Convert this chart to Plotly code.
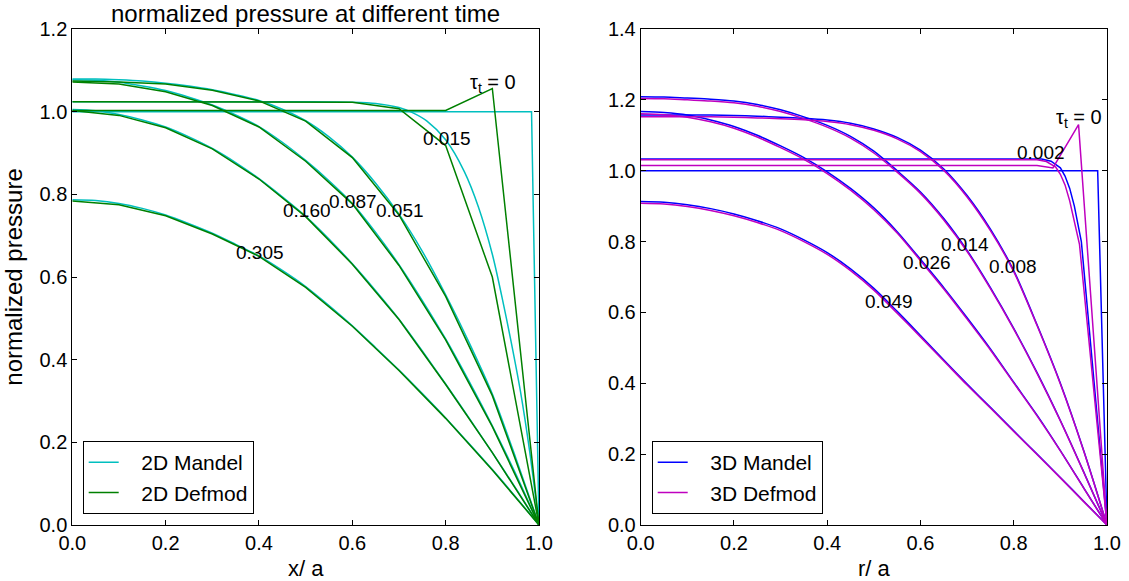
import plotly.graph_objects as go

# ---------------- 2D (left panel) ----------------
x_def2 = [0.0, 0.1, 0.2, 0.3, 0.4, 0.5, 0.6, 0.7, 0.8, 0.9, 1.0]
def2_t0 = [1.003, 1.003, 1.003, 1.003, 1.003, 1.003, 1.003, 1.003, 1.003, 1.056, 0.0]
def2_015 = [1.024, 1.024, 1.024, 1.024, 1.024, 1.024, 1.023, 1.007, 0.918, 0.600, 0.0]
def2_051 = [1.074, 1.072, 1.067, 1.052, 1.026, 0.977, 0.889, 0.750, 0.553, 0.313, 0.0]
def2_087 = [1.072, 1.067, 1.048, 1.015, 0.963, 0.880, 0.777, 0.628, 0.448, 0.238, 0.0]
def2_160 = [1.003, 0.991, 0.961, 0.910, 0.837, 0.746, 0.631, 0.497, 0.340, 0.175, 0.0]
def2_305 = [0.784, 0.775, 0.748, 0.704, 0.650, 0.575, 0.481, 0.374, 0.258, 0.133, 0.0]

x_man = [0.0, 0.05, 0.1, 0.15, 0.2, 0.25, 0.3, 0.35, 0.4, 0.45, 0.5,
         0.55, 0.6, 0.65, 0.7, 0.75, 0.8, 0.85, 0.9, 0.95, 1.0]
man2_t0_x = [0.0, 0.984, 1.0]
man2_t0 = [1.0, 1.0, 0.0]
man2_015_x = [0.0, 0.1, 0.2, 0.3, 0.4, 0.5, 0.6, 0.65, 0.7, 0.73, 0.76, 0.8,
              0.84, 0.87, 0.9, 0.92, 0.94, 0.96, 0.98, 1.0]
man2_015 = [1.024, 1.024, 1.024, 1.024, 1.024, 1.024, 1.023, 1.020, 1.010, 0.997,
            0.977, 0.932, 0.855, 0.770, 0.655, 0.555, 0.445, 0.325, 0.178, 0.0]
man2_051 = [1.079, 1.079, 1.077, 1.074, 1.069, 1.062, 1.053, 1.041, 1.027, 1.006, 0.978,
            0.939, 0.890, 0.827, 0.752, 0.662, 0.557, 0.442, 0.317, 0.163, 0.0]
man2_087 = [1.077, 1.076, 1.071, 1.062, 1.051, 1.035, 1.016, 0.992, 0.964, 0.926, 0.882,
            0.833, 0.778, 0.708, 0.630, 0.543, 0.450, 0.348, 0.240, 0.124, 0.0]
man2_160 = [1.005, 1.002, 0.993, 0.980, 0.963, 0.939, 0.911, 0.877, 0.838, 0.794, 0.747,
            0.692, 0.632, 0.567, 0.498, 0.421, 0.341, 0.259, 0.175, 0.089, 0.0]
man2_305 = [0.787, 0.785, 0.778, 0.766, 0.750, 0.729, 0.706, 0.679, 0.651, 0.616, 0.577,
            0.531, 0.482, 0.429, 0.375, 0.318, 0.259, 0.197, 0.134, 0.068, 0.0]

labels2 = ["0.015", "0.051", "0.087", "0.160", "0.305"]
labels2_x = [0.802, 0.702, 0.601, 0.502, 0.402]
labels2_y = [0.934, 0.762, 0.782, 0.760, 0.659]

# ---------------- 3D (right panel) ----------------
man3_t0_x = [0.0, 0.98, 1.0]
man3_t0 = [1.0, 1.0, 0.0]
man3_002_x = [0.0, 0.86, 0.88, 0.9, 0.91, 0.92, 0.93, 0.945, 1.0]
man3_002 = [1.033, 1.033, 1.027, 1.008, 0.985, 0.950, 0.900, 0.800, 0.0]
man3_008 = [1.157, 1.157, 1.157, 1.157, 1.156, 1.154, 1.151, 1.148, 1.143, 1.134, 1.118,
            1.094, 1.058, 1.005, 0.930, 0.835, 0.718, 0.565, 0.400, 0.210, 0.0]
man3_014 = [1.209, 1.208, 1.205, 1.202, 1.197, 1.187, 1.172, 1.152, 1.128, 1.097, 1.055,
            1.000, 0.940, 0.865, 0.775, 0.670, 0.555, 0.430, 0.295, 0.150, 0.0]
man3_026 = [1.167, 1.164, 1.157, 1.143, 1.125, 1.100, 1.070, 1.037, 0.997, 0.950, 0.895,
            0.828, 0.750, 0.670, 0.585, 0.497, 0.403, 0.310, 0.210, 0.105, 0.0]
man3_049 = [0.913, 0.911, 0.904, 0.893, 0.878, 0.859, 0.836, 0.805, 0.769, 0.723, 0.668,
            0.603, 0.535, 0.466, 0.398, 0.332, 0.266, 0.200, 0.134, 0.067, 0.0]

def3_t0_x = [0.0, 0.85, 0.884, 0.939, 1.0]
def3_t0 = [1.015, 1.015, 1.008, 1.130, 0.0]
def3_002_x = [0.0, 0.85, 0.87, 0.89, 0.9, 0.91, 0.92, 0.93, 0.941, 1.0]
def3_002 = [1.031, 1.031, 1.026, 1.010, 0.990, 0.960, 0.915, 0.860, 0.792, 0.0]
def3_008 = [1.152, 1.152, 1.152, 1.152, 1.151, 1.149, 1.147, 1.144, 1.139, 1.130, 1.114,
            1.090, 1.054, 1.001, 0.926, 0.831, 0.715, 0.563, 0.398, 0.209, 0.0]
def3_014 = [1.204, 1.203, 1.200, 1.197, 1.192, 1.182, 1.167, 1.147, 1.123, 1.092, 1.050,
            0.996, 0.936, 0.861, 0.772, 0.667, 0.553, 0.428, 0.294, 0.149, 0.0]
def3_026 = [1.161, 1.158, 1.151, 1.138, 1.120, 1.095, 1.065, 1.032, 0.992, 0.945, 0.890,
            0.824, 0.746, 0.666, 0.581, 0.494, 0.401, 0.308, 0.209, 0.104, 0.0]
def3_049 = [0.908, 0.906, 0.899, 0.888, 0.873, 0.854, 0.831, 0.800, 0.764, 0.718, 0.663,
            0.598, 0.531, 0.463, 0.395, 0.330, 0.264, 0.199, 0.133, 0.066, 0.0]

labels3 = ["0.002", "0.008", "0.014", "0.026", "0.049"]
labels3_x = [0.859, 0.798, 0.696, 0.614, 0.533]
labels3_y = [1.051, 0.731, 0.792, 0.740, 0.632]

CYAN = "#00bfbf"
GREEN = "#008000"
BLUE = "#0000ff"
MAGENTA = "#bf00bf"
FONT = "Liberation Sans"
PAD = "\u00a0\u00a0\u00a0"

fig = go.Figure()

def add(x, y, color, name, show, xa, ya, legend, shape="linear"):
    fig.add_trace(go.Scatter(
        x=x, y=y, mode="lines", name=PAD + name, showlegend=show, legend=legend,
        line=dict(color=color, width=1.5, shape=shape, smoothing=0.8),
        xaxis=xa, yaxis=ya, hoverinfo="skip"))

# left: Mandel first, Defmod on top
add(man2_t0_x, man2_t0, CYAN, "2D Mandel", True, "x", "y", "legend")
add(man2_015_x, man2_015, CYAN, "2D Mandel", False, "x", "y", "legend", "spline")
for ys in [man2_051, man2_087, man2_160, man2_305]:
    add(x_man, ys, CYAN, "2D Mandel", False, "x", "y", "legend", "spline")
first = True
for ys in [def2_t0, def2_015, def2_051, def2_087, def2_160, def2_305]:
    add(x_def2, ys, GREEN, "2D Defmod", first, "x", "y", "legend")
    first = False

# right
add(man3_t0_x, man3_t0, BLUE, "3D Mandel", True, "x2", "y2", "legend2")
add(man3_002_x, man3_002, BLUE, "3D Mandel", False, "x2", "y2", "legend2")
for ys in [man3_008, man3_014, man3_026, man3_049]:
    add(x_man, ys, BLUE, "3D Mandel", False, "x2", "y2", "legend2", "spline")
add(def3_t0_x, def3_t0, MAGENTA, "3D Defmod", True, "x2", "y2", "legend2")
add(def3_002_x, def3_002, MAGENTA, "3D Defmod", False, "x2", "y2", "legend2")
for ys in [def3_008, def3_014, def3_026, def3_049]:
    add(x_man, ys, MAGENTA, "3D Defmod", False, "x2", "y2", "legend2", "spline")

ann = []
for t, x, y in zip(labels2, labels2_x, labels2_y):
    ann.append(dict(x=x, y=y, xref="x", yref="y", text=t, showarrow=False,
                    font=dict(size=19, color="black", family=FONT)))
for t, x, y in zip(labels3, labels3_x, labels3_y):
    ann.append(dict(x=x, y=y, xref="x2", yref="y2", text=t, showarrow=False,
                    font=dict(size=19, color="black", family=FONT)))
ann.append(dict(x=0.901, y=1.069, xref="x", yref="y", text="τ<sub>t</sub> = 0",
                showarrow=False, font=dict(size=20, color="black", family=FONT)))
ann.append(dict(x=0.939, y=1.148, xref="x2", yref="y2", text="τ<sub>t</sub> = 0",
                showarrow=False, font=dict(size=20, color="black", family=FONT)))
ann.append(dict(x=305 / 1129, y=1 - 14 / 581, xref="paper", yref="paper",
                text="normalized pressure at different time", showarrow=False,
                xanchor="center", yanchor="middle",
                font=dict(size=24, color="black", family=FONT)))

axis_common = dict(showline=True, linecolor="black", linewidth=1, mirror="ticks",
                   ticks="inside", ticklen=5, tickcolor="black", showgrid=False,
                   zeroline=False, tickformat=".1f", automargin=False,
                   tickfont=dict(size=20, color="black", family=FONT))

ydom = [56 / 581, 552 / 581]
legend_common = dict(xanchor="left", yanchor="bottom", bordercolor="black", borderwidth=1,
                     bgcolor="white", itemwidth=30, tracegroupgap=0,
                     font=dict(size=21, color="black", family=FONT))
fig.update_layout(
    template="none",
    width=1129, height=581, autosize=False,
    margin=dict(l=0, r=0, t=0, b=0, pad=0),
    font=dict(family=FONT, color="black"),
    paper_bgcolor="white", plot_bgcolor="white",
    xaxis=dict(domain=[72.3 / 1129, 539 / 1129], range=[0, 1], dtick=0.2,
               title=dict(text="x/ a", font=dict(size=22, color="black", family=FONT)),
               anchor="y", **axis_common),
    yaxis=dict(domain=ydom, range=[0, 1.2], dtick=0.2,
               title=dict(text="normalized pressure", font=dict(size=24, color="black", family=FONT)),
               anchor="x", **axis_common),
    xaxis2=dict(domain=[640.7 / 1129, 1107 / 1129], range=[0, 1], dtick=0.2,
                title=dict(text="r/ a", font=dict(size=22, color="black", family=FONT)),
                anchor="y2", **axis_common),
    yaxis2=dict(domain=ydom, range=[0, 1.4], dtick=0.2, anchor="x2", **axis_common),
    legend=dict(x=82.7 / 1129, y=(581 - 514) / 581, **legend_common),
    legend2=dict(x=651.7 / 1129, y=(581 - 514) / 581, **legend_common),
    annotations=ann,
    showlegend=True,
)

fig.write_html("out.html")
